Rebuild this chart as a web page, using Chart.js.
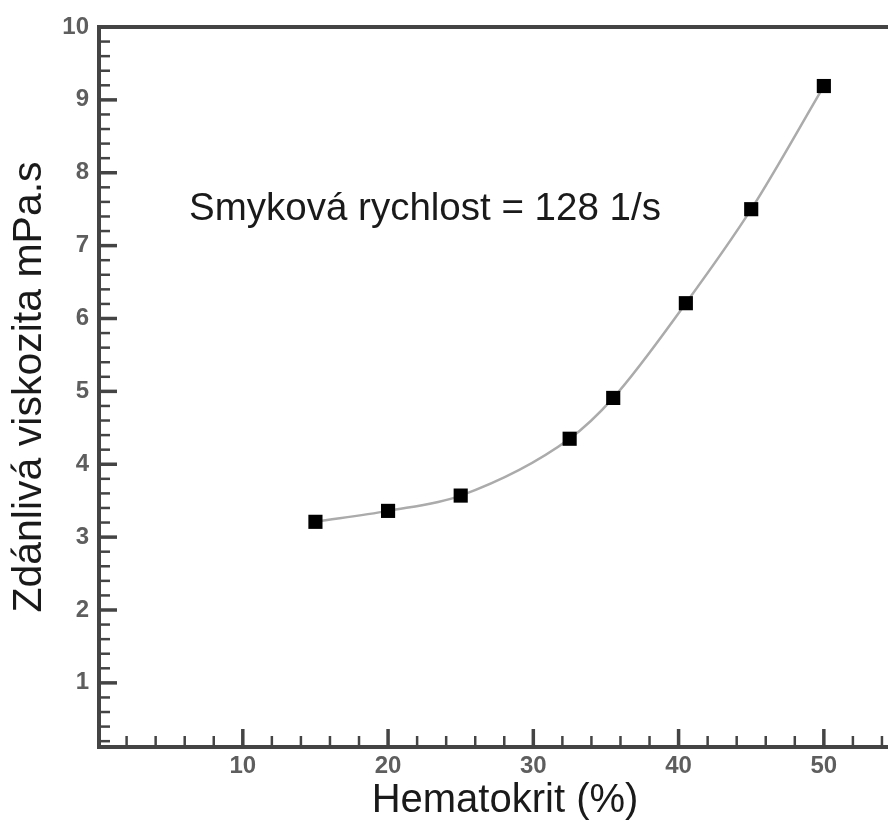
<!DOCTYPE html>
<html>
<head>
<meta charset="utf-8">
<title>Hematokrit</title>
<script src="https://cdn.jsdelivr.net/npm/chart.js@4"></script>
<style>
  html, body { margin: 0; padding: 0; background: #fff; overflow: hidden; }
  #wrap { width: 888px; height: 825px; overflow: hidden; }
</style>
</head>
<body>
<div id="wrap"><canvas id="chart" width="921" height="825"></canvas></div>
<script>
// Apparent viscosity of blood against hematocrit
const hematocrit = [15, 20, 25, 32.5, 35.5, 40.5, 45, 50];
const viscosity = [3.21, 3.36, 3.57, 4.35, 4.91, 6.21, 7.5, 9.19];

// Axis ticks
const xTickValues = [10, 20, 30, 40, 50];
const yTickValues = [1, 2, 3, 4, 5, 6, 7, 8, 9, 10];
const xMinorStep = 2;
const yMinorStep = 0.2;

const noteText = 'Smyková rychlost = 128 1/s';

const fontFamily = '"Liberation Sans", Arial, Helvetica, sans-serif';
const axisColor = '#444';

// Inward tick marks, the top frame line and the text note
const axisFrame = {
  id: 'axisFrame',
  beforeDatasetsDraw(chart) {
    const { ctx, chartArea, scales } = chart;
    const x = scales.x, y = scales.y;
    ctx.save();
    ctx.strokeStyle = axisColor;
    ctx.lineCap = 'butt';

    // top line of the frame
    ctx.lineWidth = 4;
    ctx.beginPath();
    ctx.moveTo(chartArea.left - 2, chartArea.top);
    ctx.lineTo(chart.width, chartArea.top);
    ctx.stroke();

    // x ticks along the bottom axis
    for (let i = 1; i * xMinorStep < x.max; i++) {
      const v = i * xMinorStep;
      const major = xTickValues.includes(v);
      const px = x.getPixelForValue(v);
      ctx.lineWidth = major ? 3.5 : 2.5;
      ctx.beginPath();
      ctx.moveTo(px, chartArea.bottom);
      ctx.lineTo(px, chartArea.bottom - (major ? 18 : 11));
      ctx.stroke();
    }

    // y ticks along the left axis
    for (let i = 1; i * yMinorStep < y.max - 1e-6; i++) {
      const v = i * yMinorStep;
      const major = Math.abs(v - Math.round(v)) < 1e-6;
      const py = y.getPixelForValue(v);
      ctx.lineWidth = major ? 3.5 : 2.5;
      ctx.beginPath();
      ctx.moveTo(chartArea.left, py);
      ctx.lineTo(chartArea.left + (major ? 18 : 11), py);
      ctx.stroke();
    }
    ctx.restore();
  },
  afterDatasetsDraw(chart) {
    const { ctx, scales } = chart;
    ctx.save();
    ctx.font = '38.5px ' + fontFamily;
    ctx.fillStyle = '#1a1a1a';
    ctx.textAlign = 'left';
    ctx.textBaseline = 'alphabetic';
    ctx.fillText(noteText, scales.x.getPixelForValue(6.3), scales.y.getPixelForValue(7.35));
    ctx.restore();
  }
};

const points = hematocrit.map((h, i) => ({ x: h, y: viscosity[i] }));

const chartConfig = {
  type: 'line',
  data: {
    datasets: [
      {
        data: points,
        borderColor: '#ababab',
        borderWidth: 2.5,
        cubicInterpolationMode: 'monotone',
        fill: false,
        pointStyle: 'rect',
        pointRadius: 10,
        pointBackgroundColor: '#000',
        pointBorderWidth: 0,
      },
    ],
  },
  options: {
    responsive: false,
    animation: false,
    layout: { padding: { top: 27, right: 0, bottom: 0, left: 0 } },
    plugins: {
      legend: { display: false },
      tooltip: { enabled: false },
    },
    scales: {
      x: {
        type: 'linear',
        min: 0.1,
        max: 56,
        grid: { display: false, drawTicks: false },
        border: { color: axisColor, width: 4 },
        afterBuildTicks: (scale) => {
          scale.ticks = xTickValues.map((v) => ({ value: v }));
        },
        afterFit: (scale) => {
          scale.height = 78;
        },
        ticks: {
          padding: 5,
          color: '#5e5e5e',
          autoSkip: false,
          maxRotation: 0,
          font: { family: fontFamily, size: 24, weight: 'bold' },
        },
        title: {
          display: true,
          text: 'Hematokrit (%)',
          color: '#1a1a1a',
          font: { family: fontFamily, size: 40 },
          padding: { top: 0, bottom: 0 },
        },
      },
      y: {
        type: 'linear',
        min: 0.12,
        max: 10,
        grid: { display: false, drawTicks: false },
        border: { color: axisColor, width: 4 },
        afterBuildTicks: (scale) => {
          scale.ticks = yTickValues.map((v) => ({ value: v }));
        },
        afterFit: (scale) => {
          scale.width = 99;
        },
        ticks: {
          padding: 10,
          color: '#5e5e5e',
          autoSkip: false,
          font: { family: fontFamily, size: 24, weight: 'bold' },
        },
        title: {
          display: true,
          text: 'Zdánlivá viskozita mPa.s',
          color: '#1a1a1a',
          font: { family: fontFamily, size: 41 },
          padding: { top: 5, bottom: 0 },
        },
      },
    },
  },
  plugins: [axisFrame],
};

new Chart(document.getElementById('chart'), chartConfig);
</script>
</body>
</html>
